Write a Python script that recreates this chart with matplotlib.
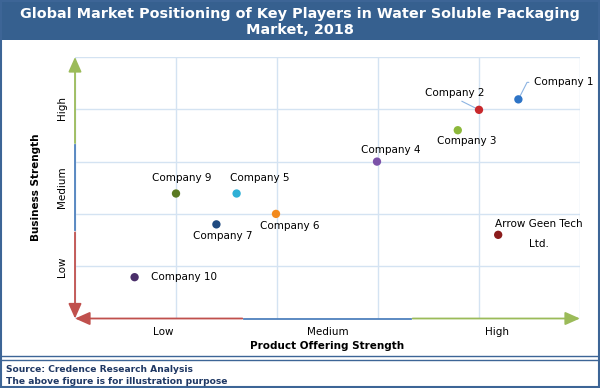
import matplotlib.pyplot as plt
from matplotlib.patches import Rectangle
from matplotlib.lines import Line2D

# company positions (product offering strength, business strength), grid units 0-5
companies = ['Company 1', 'Company 2', 'Company 3', 'Company 4', 'Company 5',
             'Company 6', 'Company 7', 'Company 9', 'Company 10',
             'Arrow Geen Tech\nLtd.']
product_strength = [4.39, 4.0, 3.79, 2.99, 1.6, 1.99, 1.4, 1.0, 0.59, 4.19]
business_strength = [4.19, 3.99, 3.6, 3.0, 2.39, 2.0, 1.8, 2.39, 0.79, 1.6]
level_labels = ['Low', 'Medium', 'High']

dot_colors = ['#2e74c6', '#c8282c', '#8cb83a', '#7b52a8', '#2fb0d6',
              '#f28a1e', '#1f4a80', '#5a7a22', '#4a2f6a', '#8b1c1c']
# label offset in pixels from the dot, and alignment
label_pos = [(16, 17, 'left'), (-24, 17, 'center'), (9, -11, 'center'),
             (14, 12, 'center'), (23, 16, 'center'), (14, -12, 'center'),
             (6, -12, 'center'), (6, 16, 'center'), (16, 0, 'left'),
             (41, 1, 'center')]

W, H = 600, 388
fig = plt.figure(figsize=(W / 100, H / 100), dpi=100)
frame = '#3d6596'
navy = '#1f3864'

# title banner and frame
fig.patches.append(Rectangle((0, (H - 40) / H), 1, 40 / H, transform=fig.transFigure,
                             facecolor='#36608f', edgecolor='none', zorder=0))
fig.patches.append(Rectangle((0.002, 0.002), 0.996, 0.996, transform=fig.transFigure,
                             facecolor='none', edgecolor=frame, lw=1.5, zorder=5))
for yy in (356, 359.5):
    fig.lines.append(Line2D([0, 1], [(H - yy) / H] * 2, transform=fig.transFigure,
                            color=frame, lw=1))
fig.text(0.5, (H - 22) / H,
         'Global Market Positioning of Key Players in Water Soluble Packaging\nMarket, 2018',
         ha='center', va='center', color='white', fontsize=10.4, fontweight='bold',
         linespacing=1.2)
fig.text(6 / W, (H - 369) / H, 'Source: Credence Research Analysis', color=navy,
         fontsize=6.6, fontweight='bold', va='center')
fig.text(6 / W, (H - 381) / H, 'The above figure is for illustration purpose', color=navy,
         fontsize=6.6, fontweight='bold', va='center')

ax = fig.add_axes([75 / W, (H - 318.5) / H, 505 / W, 261.5 / H])
ax.set_xlim(0, 5)
ax.set_ylim(0, 5)
for s in ax.spines.values():
    s.set_visible(False)

ax.set_xticks(range(6), minor=True)
ax.set_yticks(range(6), minor=True)
ax.grid(which='minor', color='#d4e3f2', lw=1)
ax.tick_params(which='both', length=0)
ax.set_xticks([0.87, 2.5, 4.18])
ax.set_xticklabels(level_labels, fontsize=7.5)
ax.set_yticks([0.98, 2.51, 4.02])
ax.set_yticklabels(level_labels, fontsize=7.5, rotation=90, va='center')
ax.tick_params(axis='x', pad=6)
ax.tick_params(axis='y', pad=6)
ax.set_xlabel('Product Offering Strength', fontsize=7.5, fontweight='bold', labelpad=3)
ax.set_ylabel('Business Strength', fontsize=7.5, fontweight='bold', labelpad=11)

# tri-colour axis arrows
red, blue, green = '#c0504d', '#4f81bd', '#9bbb59'
head = dict(arrowstyle='-|>,head_length=0.9,head_width=0.4', lw=1.3,
            shrinkA=0, shrinkB=0)
third = 5 / 3
ax.annotate('', xy=(0, 0), xytext=(0, third - 0.02),
            arrowprops=dict(head, color=red), annotation_clip=False)
ax.plot([0, 0], [third + 0.02, 2 * third - 0.02], color=blue, lw=1.3, clip_on=False)
ax.annotate('', xy=(0, 5), xytext=(0, 2 * third + 0.02),
            arrowprops=dict(head, color=green), annotation_clip=False)
ax.annotate('', xy=(0, 0), xytext=(third - 0.01, 0),
            arrowprops=dict(head, color=red), annotation_clip=False)
ax.plot([third + 0.01, 2 * third - 0.01], [0, 0], color=blue, lw=1.3, clip_on=False)
ax.annotate('', xy=(5, 0), xytext=(2 * third + 0.01, 0),
            arrowprops=dict(head, color=green), annotation_clip=False)

ax.scatter(product_strength, business_strength, s=36, c=dot_colors, zorder=4,
           edgecolors='none')

for i, name in enumerate(companies):
    dx, dy, ha = label_pos[i]
    kw = {}
    if i == 0:
        kw['arrowprops'] = dict(arrowstyle='-', color='#8db4e2', lw=0.8,
                                relpos=(0, 0.5), shrinkA=2, shrinkB=3,
                                connectionstyle='angle,angleA=0,angleB=63,rad=0')
    elif i == 1:
        kw['arrowprops'] = dict(arrowstyle='-', color='#8db4e2', lw=0.8,
                                relpos=(0.5, 0), shrinkA=1, shrinkB=3)
    ax.annotate(name, (product_strength[i], business_strength[i]),
                xytext=(dx, dy), textcoords='offset pixels', ha=ha, va='center',
                fontsize=7.5, linespacing=2.3 if i == 9 else 1.2,
                annotation_clip=False, **kw)

fig.savefig('out.png', dpi=100)
